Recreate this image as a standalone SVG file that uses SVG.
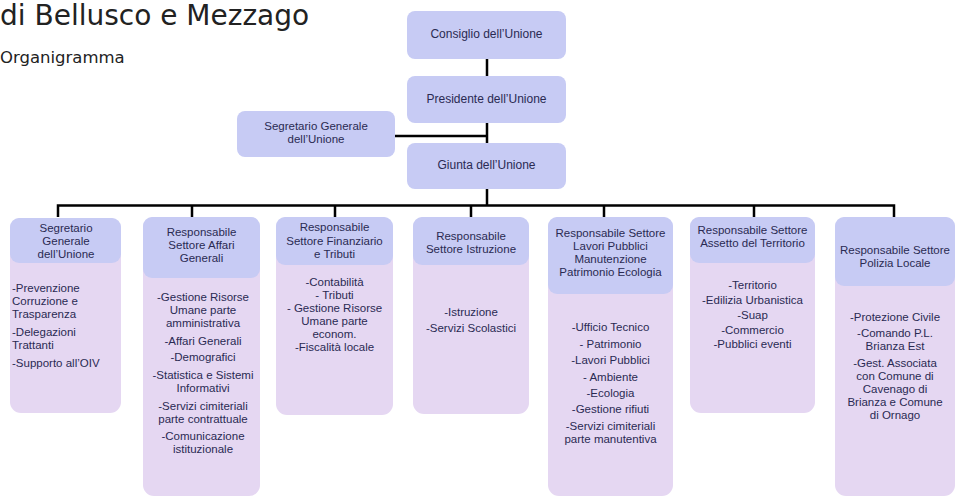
<svg xmlns="http://www.w3.org/2000/svg" width="957" height="496" viewBox="0 0 957 496">
<style>
.node{fill:#c7cbf4}
.hd{fill:#c7cbf4}
.bd{fill:#e5d7f2}
.t{font-family:"Liberation Sans",Arial,sans-serif;font-size:11.5px;fill:#2a2a52;text-anchor:middle}
.tn{font-size:12px}
.l{text-anchor:start}
.ln{stroke:#000;stroke-width:2.5;fill:none}
.title{font-family:"DejaVu Sans",Verdana,sans-serif;fill:#222}
</style>
<rect width="957" height="496" fill="#fff"/>
<text class="title" x="0" y="25" font-size="28">di Bellusco e Mezzago</text>
<text class="title" x="0" y="63" font-size="16.5">Organigramma</text>

<g id="connectors">
<path class="ln" d="M487 59V205.5M395 136H487M58 217V205.5H894V217M192 205.5V217M335 205.5V217M471 205.5V217M604 205.5V217M754 205.5V217"/>
</g>

<g id="consiglio"><rect class="node" x="407" y="11" width="159" height="48" rx="8"/><text class="t tn" x="486.5" y="38">Consiglio dell’Unione</text></g>
<g id="presidente"><rect class="node" x="407" y="76" width="159" height="47" rx="8"/><text class="t tn" x="486.5" y="103">Presidente dell’Unione</text></g>
<g id="segretario-top"><rect class="node" x="237" y="111" width="158" height="46" rx="8"/><text class="t" x="316" y="130">Segretario Generale</text><text class="t" x="316" y="143">dell’Unione</text></g>
<g id="giunta"><rect class="node" x="407" y="143" width="159" height="46" rx="8"/><text class="t tn" x="486.5" y="169">Giunta dell’Unione</text></g>

<g id="col1">
<rect class="bd" x="10" y="218" width="111" height="195" rx="11"/>
<rect class="hd" x="10" y="218" width="111" height="45" rx="9"/>
<text class="t" x="66" y="232">Segretario</text><text class="t" x="66" y="245">Generale</text><text class="t" x="66" y="258">dell’Unione</text>
<text class="t l" x="12" y="292">-Prevenzione</text><text class="t l" x="12" y="305">Corruzione e</text><text class="t l" x="12" y="318">Trasparenza</text>
<text class="t l" x="12" y="336">-Delegazioni</text><text class="t l" x="12" y="349">Trattanti</text>
<text class="t l" x="12" y="367">-Supporto all’OIV</text>
</g>

<g id="col2">
<rect class="bd" x="143" y="217" width="117" height="279" rx="11"/>
<rect class="hd" x="143" y="217" width="117" height="61" rx="9"/>
<text class="t" x="201.5" y="236">Responsabile</text><text class="t" x="201.5" y="249">Settore Affari</text><text class="t" x="201.5" y="262">Generali</text>
<text class="t" x="203" y="301">-Gestione Risorse</text><text class="t" x="203" y="314">Umane parte</text><text class="t" x="203" y="327">amministrativa</text>
<text class="t" x="203" y="344.5">-Affari Generali</text>
<text class="t" x="203" y="361">-Demografici</text>
<text class="t" x="203" y="379">-Statistica e Sistemi</text><text class="t" x="203" y="392">Informativi</text>
<text class="t" x="203" y="410">-Servizi cimiteriali</text><text class="t" x="203" y="423">parte contrattuale</text>
<text class="t" x="203" y="440">-Comunicazione</text><text class="t" x="203" y="453">istituzionale</text>
</g>

<g id="col3">
<rect class="bd" x="276" y="217" width="117" height="198" rx="11"/>
<rect class="hd" x="276" y="217" width="117" height="48" rx="9"/>
<text class="t" x="334.5" y="231">Responsabile</text><text class="t" x="334.5" y="245">Settore Finanziario</text><text class="t" x="334.5" y="258">e Tributi</text>
<text class="t" x="334.5" y="286">-Contabilità</text>
<text class="t" x="334.5" y="299">- Tributi</text>
<text class="t" x="334.5" y="312">- Gestione Risorse</text><text class="t" x="334.5" y="325">Umane parte</text><text class="t" x="334.5" y="338">econom.</text>
<text class="t" x="334.5" y="351">-Fiscalità locale</text>
</g>

<g id="col4">
<rect class="bd" x="413" y="217" width="116" height="197" rx="11"/>
<rect class="hd" x="413" y="217" width="116" height="48" rx="9"/>
<text class="t" x="471" y="240">Responsabile</text><text class="t" x="471" y="253">Settore Istruzione</text>
<text class="t" x="471" y="316">-Istruzione</text>
<text class="t" x="471" y="332">-Servizi Scolastici</text>
</g>

<g id="col5">
<rect class="bd" x="548" y="217" width="125" height="279" rx="11"/>
<rect class="hd" x="548" y="217" width="125" height="77" rx="9"/>
<text class="t" x="610.5" y="237">Responsabile Settore</text><text class="t" x="610.5" y="250">Lavori Pubblici</text><text class="t" x="610.5" y="263">Manutenzione</text><text class="t" x="610.5" y="276">Patrimonio Ecologia</text>
<text class="t" x="610.5" y="331">-Ufficio Tecnico</text>
<text class="t" x="610.5" y="348">- Patrimonio</text>
<text class="t" x="610.5" y="364">-Lavori Pubblici</text>
<text class="t" x="610.5" y="381">- Ambiente</text>
<text class="t" x="610.5" y="397">-Ecologia</text>
<text class="t" x="610.5" y="413">-Gestione rifiuti</text>
<text class="t" x="610.5" y="430">-Servizi cimiteriali</text><text class="t" x="610.5" y="443">parte manutentiva</text>
</g>

<g id="col6">
<rect class="bd" x="690" y="217" width="125" height="196" rx="11"/>
<rect class="hd" x="690" y="217" width="125" height="46" rx="9"/>
<text class="t" x="752.5" y="234">Responsabile Settore</text><text class="t" x="752.5" y="247">Assetto del Territorio</text>
<text class="t" x="752.5" y="289">-Territorio</text>
<text class="t" x="752.5" y="304">-Edilizia Urbanistica</text>
<text class="t" x="752.5" y="319">-Suap</text>
<text class="t" x="752.5" y="334">-Commercio</text>
<text class="t" x="752.5" y="348">-Pubblici eventi</text>
</g>

<g id="col7">
<rect class="bd" x="835" y="217" width="120" height="279" rx="11"/>
<rect class="hd" x="835" y="217" width="120" height="69" rx="9"/>
<text class="t" x="895" y="254">Responsabile Settore</text><text class="t" x="895" y="267">Polizia Locale</text>
<text class="t" x="895" y="321">-Protezione Civile</text>
<text class="t" x="895" y="337">-Comando P.L.</text><text class="t" x="895" y="350">Brianza Est</text>
<text class="t" x="895" y="367">-Gest. Associata</text><text class="t" x="895" y="380">con Comune di</text><text class="t" x="895" y="393">Cavenago di</text><text class="t" x="895" y="406">Brianza e Comune</text><text class="t" x="895" y="419">di Ornago</text>
</g>
</svg>
